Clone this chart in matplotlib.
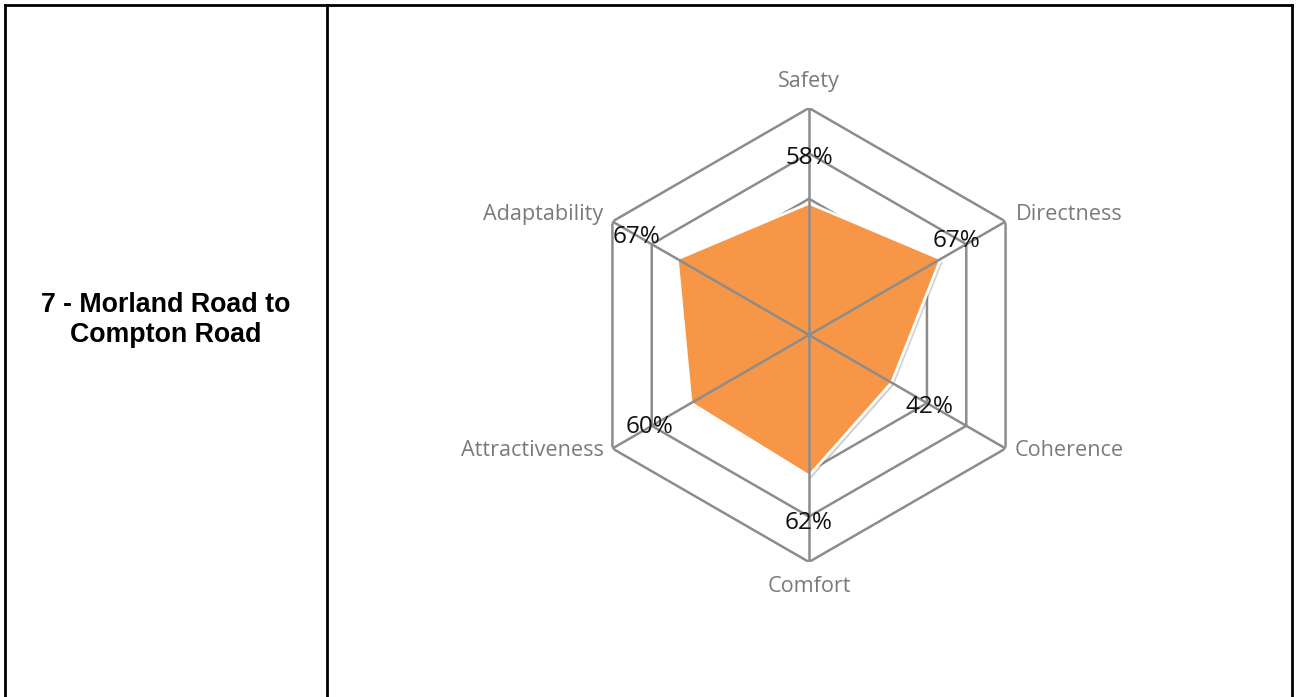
import numpy as np
import matplotlib.pyplot as plt
from matplotlib.lines import Line2D
from matplotlib import patheffects

# data
categories = ['Safety', 'Directness', 'Coherence', 'Comfort', 'Attractiveness', 'Adaptability']
values = [0.58, 0.67, 0.42, 0.62, 0.60, 0.67]
ring_levels = [0.2, 0.4, 0.6, 0.8, 1.0]
row_title = '7 - Morland Road to\nCompton Road'

# label placement (pixels), purely cosmetic
cat_offsets = [(0, 26), (10, 7), (9, -2), (0, -24), (-9, -2), (-9, 7)]
cat_ha = ['center', 'left', 'left', 'center', 'right', 'right']
pct_offsets = [(0, 45), (16, 18), (38, -24), (0, -47), (-41, -24), (-41, 22)]

grid_col = '#8C8C8C'
fill_col = '#F79646'

fig = plt.figure(figsize=(12.96, 6.97), dpi=100)

# table frame
W, H = 1296, 697
def px_line(x0, y0, x1, y1):
    fig.add_artist(Line2D([x0 / W, x1 / W], [1 - y0 / H, 1 - y1 / H],
                          color='black', lw=2, transform=fig.transFigure))
px_line(5, 5, 1292, 5)
px_line(5, 5, 5, 697)
px_line(327, 5, 327, 697)
px_line(1292, 5, 1292, 697)

fig.text(166 / W, 1 - 320 / H, row_title, ha='center', va='center',
         fontsize=19.3, fontweight='bold', family='Liberation Sans',
         linespacing=1.2, color='black')

# radar chart
ax = fig.add_axes([582 / W, (362 - 227) / H, 454 / W, 454 / H], projection='polar')
ax.set_theta_offset(np.pi / 2)
ax.set_theta_direction(-1)
ax.axis('off')

n = len(categories)
angles = np.arange(n) * 2 * np.pi / n
closed_a = np.append(angles, angles[0])

for lev in ring_levels:
    ax.plot(closed_a, [lev] * (n + 1), color=grid_col, lw=1.8, zorder=1)

vals_closed = np.append(values, values[0])
poly = ax.fill(closed_a, vals_closed, facecolor=fill_col, edgecolor='white',
               lw=2, zorder=2)[0]
poly.set_path_effects([patheffects.SimplePatchShadow(offset=(1.5, -2), shadow_rgbFace='#777777', alpha=0.35),
                       patheffects.Normal()])

for a in angles:
    ax.plot([a, a], [0, 1], color=grid_col, lw=1.8, zorder=3)

ax.set_ylim(0, 1)

for a, cat, off, ha in zip(angles, categories, cat_offsets, cat_ha):
    ax.annotate(cat, xy=(a, 1.0), xytext=off, textcoords='offset pixels',
                ha=ha, va='center', fontsize=15.6, family='Open Sans',
                color='#7A7A7A', annotation_clip=False)

for a, v, off in zip(angles, values, pct_offsets):
    ax.annotate(f'{v:.0%}', xy=(a, v), xytext=off, textcoords='offset pixels',
                ha='center', va='center', fontsize=17.5, family='Open Sans',
                color='#111111', annotation_clip=False, zorder=5)

fig.savefig('out.png', dpi=100)
